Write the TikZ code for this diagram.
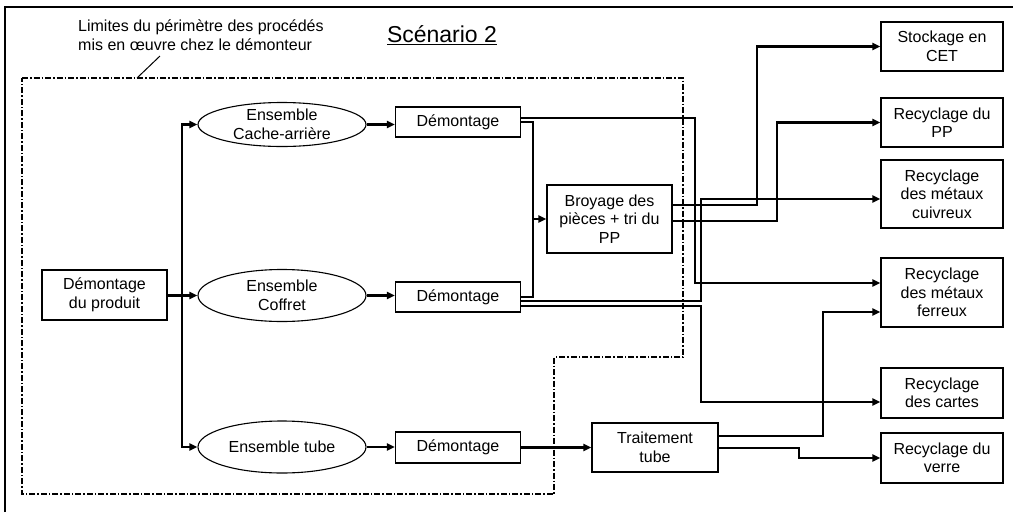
\documentclass[tikz,border=0pt]{standalone}
\usepackage{fontspec}
\setmainfont{Liberation Sans}
\usetikzlibrary{arrows.meta,shapes.geometric}
\begin{document}
\begin{tikzpicture}[x=1pt,y=-1pt,
  txt/.style={font=\fontsize{16}{18.5}\selectfont,align=center,inner sep=0pt},
  box/.style={txt,draw,line width=1.1pt,minimum width=125pt},
  rbox/.style={txt,draw,line width=1.1pt,minimum width=122pt},
  ell/.style={ellipse,draw,line width=1.1pt,inner sep=0pt,minimum width=168pt},
  conn/.style={line width=2.2pt},
  arr/.style={conn,-{Triangle[length=8pt,width=7pt]}},
  perim/.style={line width=1.4pt,dash pattern=on 6pt off 2pt on 1.5pt off 2pt},
  frame/.style={line width=1.5pt}]
\useasboundingbox (0,0) rectangle (1013,512);
% frame
\draw[frame] (5,512) -- (5,7) -- (1013,7);
% title and label
\node[font=\fontsize{23}{26}\selectfont,inner sep=0pt] (title) at (442,35) {\underline{Scénario 2}};
\node[txt,align=left,anchor=west] (lim) at (78,35) {Limites du périmètre des procédés\\mis en œuvre chez le démonteur};
\coordinate (limA) at (160,56);
\coordinate (limB) at (137,78);
\draw[line width=1pt] (limA) -- (limB);
% perimeter
\draw[perim] (22,78) -- (683,78) -- (683,357) -- (554,357) -- (554,494) -- (22,494) -- cycle;
% nodes
\node[box,minimum height=50pt] (prod) at (104.5,295) {Démontage\\du produit};
\node[ell,minimum height=44pt] (cache) at (282,124.5) {};
\node[txt] (cacheL) at (282,124.5) {Ensemble\\Cache-arrière};
\node[ell,minimum height=52pt] (coffret) at (282,295.5) {};
\node[txt] (coffretL) at (282,295.5) {Ensemble\\Coffret};
\node[ell,minimum height=52pt] (tube) at (282,447) {};
\node[txt] (tubeL) at (282,447) {Ensemble tube};
\node[box,minimum height=30pt] (dem1) at (458,122) {Démontage};
\node[box,minimum height=30pt] (dem2) at (458,297) {Démontage};
\node[box,minimum height=31pt] (dem3) at (458,447.5) {Démontage};
\node[box,minimum height=68pt] (broy) at (609.5,219) {Broyage des\\pièces + tri du\\PP};
\node[box,minimum height=49pt,minimum width=126pt] (trait) at (655,447.5) {Traitement\\tube};
\node[rbox,minimum height=49pt] (cet) at (942,46.5) {Stockage en\\CET};
\node[rbox,minimum height=49pt] (pp) at (942,122.5) {Recyclage du\\PP};
\node[rbox,minimum height=68pt] (cuiv) at (942,194) {Recyclage\\des métaux\\cuivreux};
\node[rbox,minimum height=69pt] (ferr) at (942,292.5) {Recyclage\\des métaux\\ferreux};
\node[rbox,minimum height=50pt] (cartes) at (942,393) {Recyclage\\des cartes};
\node[rbox,minimum height=50pt] (verre) at (942,458) {Recyclage du\\verre};
% connectors
\coordinate (j1) at (182,295.5);
\draw[arr] (prod.east |- coffret.west) -- (coffret.west);
\draw[arr] (j1) |- (cache.west);
\draw[arr] (j1) |- (tube.west);
\draw[arr] (cache.east) -- (dem1.west |- cache.east);
\draw[arr] (coffret.east) -- (dem2.west |- coffret.east);
\draw[arr] (tube.east) -- (dem3.west |- tube.east);
\draw[conn] (dem1.east) -| (533,297) -- (dem2.east);
\coordinate (bus) at (533,219);
\draw[arr] (bus) -- (broy.west);
\draw[arr] (dem1.east |- 0,118) -| (695,283) -- (ferr.west |- 0,283);
\draw[arr] (dem2.east |- 0,301) -| (701,199) -- (cuiv.west |- 0,199);
\draw[arr] (dem2.east |- 0,306) -| (701,402) -- (cartes.west |- 0,402);
\draw[arr] (broy.east |- 0,205) -| (757,46.5) -- (cet.west);
\draw[arr] (broy.east |- 0,221) -| (777,122.5) -- (pp.west);
\draw[arr] (dem3.east) -- (trait.west);
\draw[arr] (trait.east |- 0,436) -| (823,312) -- (ferr.west |- 0,312);
\draw[arr] (trait.east |- 0,448) -| (799,458) -- (verre.west);
\end{tikzpicture}
\end{document}
